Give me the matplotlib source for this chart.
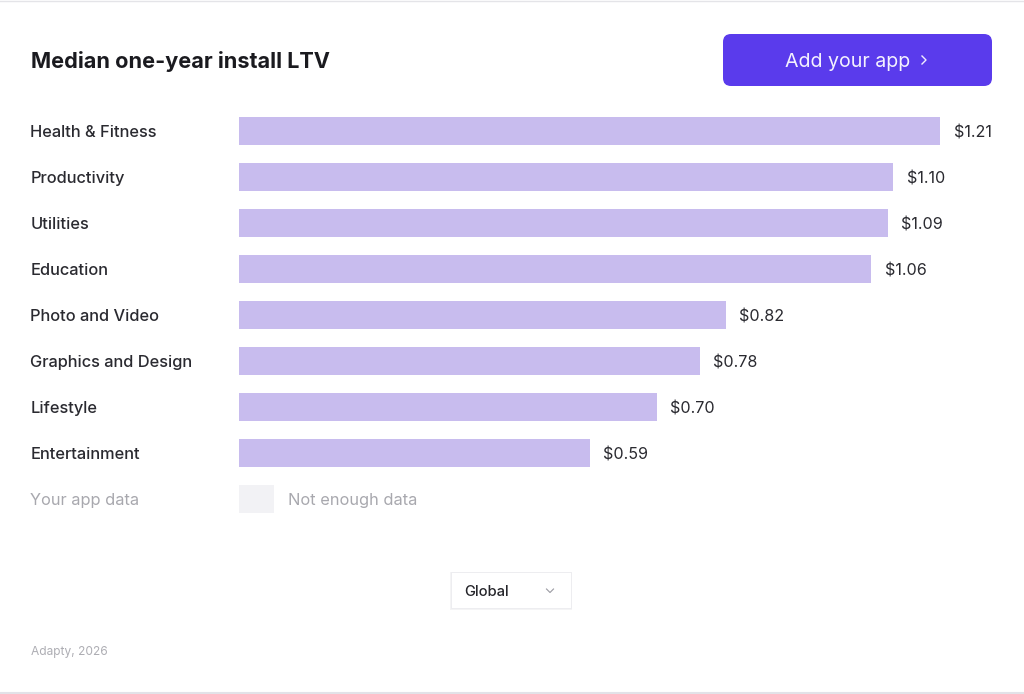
import matplotlib
matplotlib.use("Agg")
import matplotlib.pyplot as plt
from matplotlib.patches import FancyBboxPatch, Rectangle

plt.rcParams['font.family'] = ['Inter', 'DejaVu Sans']

categories = ['Health & Fitness', 'Productivity', 'Utilities', 'Education',
              'Photo and Video', 'Graphics and Design', 'Lifestyle', 'Entertainment']
# bar lengths, the first bar is shorter than its label says
bar_lengths = [1.179, 1.100, 1.091, 1.063, 0.819, 0.775, 0.703, 0.590]
value_labels = ['$1.21', '$1.10', '$1.09', '$1.06', '$0.82', '$0.78', '$0.70', '$0.59']
no_data_category = 'Your app data'
no_data_label = 'Not enough data'
no_data_length = 0.059

W, H = 1024, 694
fig = plt.figure(figsize=(W / 100, H / 100), dpi=100, facecolor='white')

# page layer in pixel coordinates for header, button, dropdown
bg = fig.add_axes([0, 0, 1, 1])
bg.set_xlim(0, W)
bg.set_ylim(H, 0)
bg.axis('off')

bg.plot([0, W], [0.5, 0.5], color='#e4e4e8', lw=1)
bg.plot([0, W], [692.5, 692.5], color='#e2e2e8', lw=1.5)

bg.text(30.6, 59.3, 'Median one-year install LTV', fontsize=15.6, fontweight='bold',
        color='#1a1a1f', va='center_baseline')

bg.add_patch(FancyBboxPatch((723, 34), 269, 52, boxstyle='round,pad=0,rounding_size=8',
                            facecolor='#5a3bec', edgecolor='none'))
bg.text(847.7, 59.6, 'Add your app', fontsize=14.1, color='#f4f2fe', ha='center',
        va='center_baseline')
bg.plot([922, 926, 922], [56, 60, 64], color='#f0edfd', lw=1.0)

# dropdown
bg.add_patch(Rectangle((450, 572), 122, 38, facecolor='#30304a', alpha=0.05, edgecolor='none'))
bg.add_patch(Rectangle((451, 572), 120, 36, facecolor='white', edgecolor='#ebebef', lw=0.6))
bg.text(464.5, 590.5, 'Global', fontsize=10.6, color='#26262b', va='center_baseline',
        fontweight='medium')
bg.plot([546.5, 550, 553.5], [589, 592.5, 589], color='#9a9aa2', lw=0.8)

bg.text(30.6, 650.5, 'Adapty, 2026', fontsize=8.6, color='#adadb3', va='center_baseline')

# bars
ax = fig.add_axes([238.7 / W, 1 - 522 / H, 785.3 / W, 414 / H])
ax.patch.set_alpha(0)
ax.set_xlim(0, 785.3 / 595)
ax.set_ylim(8.5, -0.5)
ax.axis('off')

rows = list(range(len(categories)))
ax.barh(rows, bar_lengths, height=28 / 46, color='#c8bcee')
ax.barh([len(categories)], [no_data_length], height=28 / 46, color='#f2f2f5')

name_x = -208.2 * 0.72
for row, name, length, label in zip(rows, categories, bar_lengths, value_labels):
    ax.annotate(name, xy=(0, row), xytext=(name_x, 0), textcoords='offset points',
                fontsize=11.8, color='#2a2a30', va='center_baseline', fontweight='medium')
    ax.annotate(label, xy=(length, row), xytext=(13.4 * 0.72, -0.7), textcoords='offset points',
                fontsize=11.6, color='#2a2a30', va='center_baseline')

ax.annotate(no_data_category, xy=(0, 8), xytext=(name_x, 0), textcoords='offset points',
            fontsize=11.8, color='#a8a8ae', va='center_baseline')
ax.annotate(no_data_label, xy=(no_data_length, 8), xytext=(13.8 * 0.72, 0),
            textcoords='offset points', fontsize=11.8, color='#a8a8ae', va='center_baseline')

fig.savefig('out.png', dpi=100)
